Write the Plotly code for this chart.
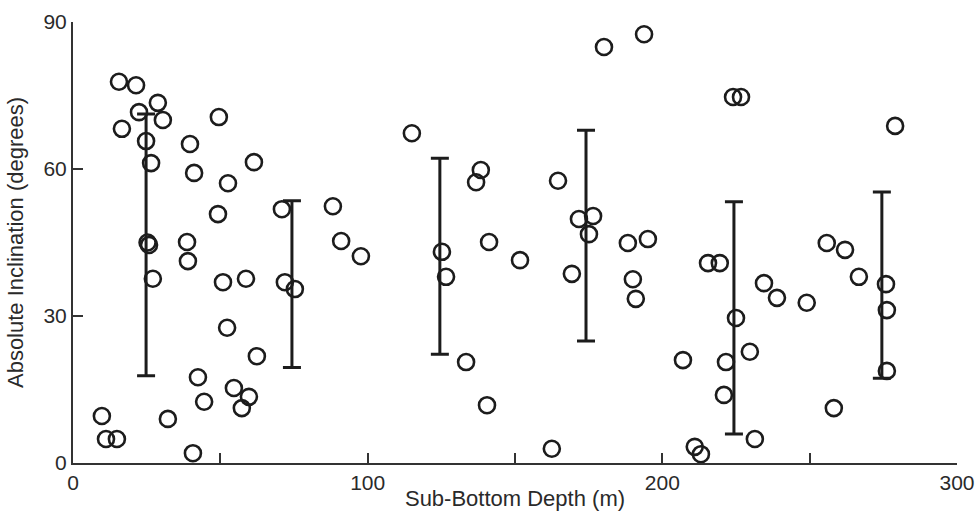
import plotly.graph_objects as go

# Sample points: sub-bottom depth (m) and absolute inclination (degrees)
depth = [9.8, 11.2, 14.9, 15.6, 21.4, 16.6, 22.4, 28.8, 30.5, 24.8,
         26.5, 25.3, 25.8, 27.1, 32.2, 39.7, 41.1, 52.6, 49.5, 61.4,
         49.2, 38.7, 39.0, 50.9, 58.7, 52.3, 62.4, 42.4, 44.5, 40.7,
         54.6, 59.7, 57.3, 70.9, 71.9, 75.3, 88.2, 91.0, 97.7, 115.0,
         138.4, 136.8, 125.2, 126.6, 141.2, 151.7, 133.4, 140.5, 162.5, 164.6,
         169.3, 171.7, 176.5, 175.1, 180.2, 193.8, 188.3, 195.1, 190.0, 191.0,
         224.0, 226.7, 279.0, 255.8, 262.0, 215.5, 219.5, 234.5, 238.9, 249.0,
         266.7, 275.9, 276.2, 276.2, 258.2, 225.0, 229.7, 221.6, 207.0, 220.9,
         211.0, 213.1, 231.4]
inclination = [9.6, 4.9, 4.9, 77.8, 77.1, 68.2, 71.6, 73.5, 70.0, 65.7,
               61.2, 45.0, 44.5, 37.6, 9.0, 65.1, 59.2, 57.1, 70.6, 61.4,
               50.8, 45.1, 41.2, 36.9, 37.6, 27.6, 21.8, 17.5, 12.5, 2.0,
               15.3, 13.5, 11.2, 51.8, 36.9, 35.5, 52.4, 45.3, 42.2, 67.3,
               59.8, 57.3, 43.1, 38.0, 45.1, 41.4, 20.6, 11.8, 2.9, 57.6,
               38.6, 49.8, 50.4, 46.7, 84.9, 87.5, 44.9, 45.7, 37.5, 33.5,
               74.7, 74.7, 68.8, 44.9, 43.5, 40.8, 40.8, 36.7, 33.7, 32.7,
               38.0, 36.5, 31.2, 18.8, 11.2, 29.6, 22.7, 20.6, 21.0, 13.9,
               3.3, 1.8, 4.9]

# Interval means and standard deviations
bar_depth = [24.8, 74.3, 124.5, 174.1, 224.3, 274.5]
bar_mean = [44.5, 36.5, 42.2, 46.4, 29.6, 36.3]
bar_sd = [26.7, 17.0, 20.0, 21.5, 23.7, 19.0]

x_tickvals = [0, 50, 100, 150, 200, 250, 300]
x_ticktext = ["0", "", "100", "", "200", "", "300"]
y_tickvals = [0, 30, 60, 90]
y_ticktext = ["0", "30", "60", "90"]

INK = "#1c1c1c"
AXIS = "#333333"
FONT = "Liberation Sans, Arial, sans-serif"

fig = go.Figure()
fig.add_trace(go.Scatter(
    x=bar_depth, y=bar_mean, mode="markers",
    marker=dict(size=1, color="rgba(0,0,0,0)"),
    error_y=dict(type="data", array=bar_sd, symmetric=True,
                 color=INK, thickness=3, width=9),
    showlegend=False, hoverinfo="skip", cliponaxis=False,
))
fig.add_trace(go.Scatter(
    x=depth, y=inclination, mode="markers",
    marker=dict(symbol="circle-open", size=16, color=INK,
                line=dict(width=2.6, color=INK)),
    showlegend=False, cliponaxis=False,
))

fig.update_layout(
    width=978, height=511,
    margin=dict(l=73, r=21, t=22, b=48),
    paper_bgcolor="white", plot_bgcolor="white",
    font=dict(family=FONT, size=21, color="#2a2a2a"),
)
fig.update_xaxes(
    range=[0, 300], tickvals=x_tickvals, ticktext=x_ticktext,
    ticks="inside", ticklen=10, tickwidth=2, tickcolor=AXIS,
    showline=True, linecolor=AXIS, linewidth=2,
    showgrid=False, zeroline=False, automargin=False,
    title=dict(text="Sub-Bottom Depth (m)", font=dict(size=22), standoff=2),
    tickfont=dict(size=21),
)
fig.update_yaxes(
    range=[0, 90], tickvals=y_tickvals, ticktext=y_ticktext,
    ticks="inside", ticklen=10, tickwidth=2, tickcolor=AXIS,
    showline=True, linecolor=AXIS, linewidth=2,
    showgrid=False, zeroline=False, automargin=False,
    title=dict(text="Absolute Inclination (degrees)", font=dict(size=22), standoff=14),
    tickfont=dict(size=21),
)

fig.write_html("out.html")
